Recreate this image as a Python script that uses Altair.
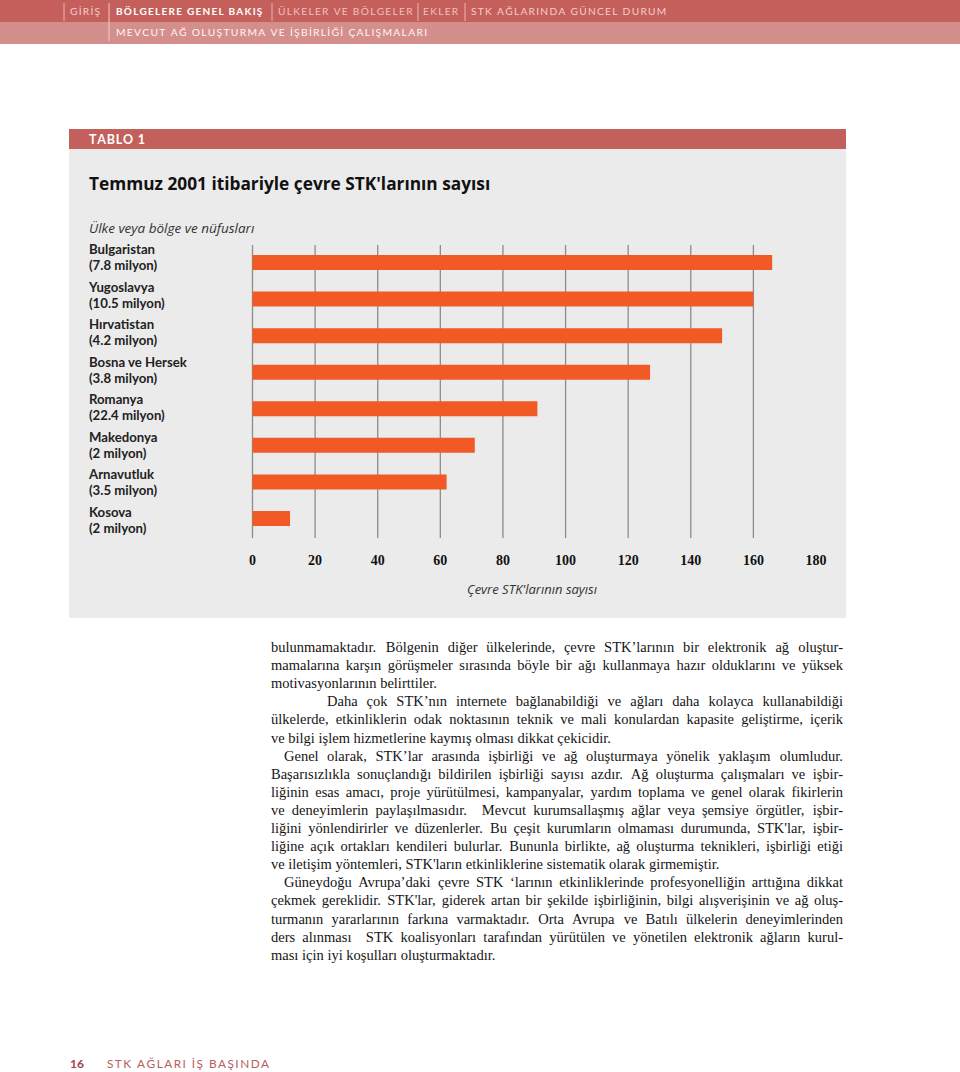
import altair as alt
import pandas as pd

# ---------------- data ----------------
countries = ["Bulgaristan", "Yugoslavya", "Hırvatistan", "Bosna ve Hersek",
             "Romanya", "Makedonya", "Arnavutluk", "Kosova"]
populations = ["(7.8 milyon)", "(10.5 milyon)", "(4.2 milyon)", "(3.8 milyon)",
               "(22.4 milyon)", "(2 milyon)", "(3.5 milyon)", "(2 milyon)"]
ngo_counts = [166, 160, 150, 127, 91, 71, 62, 12]
x_ticks = [0, 20, 40, 60, 80, 100, 120, 140, 160, 180]
grid_values = [0, 20, 40, 60, 80, 100, 120, 140, 160]

table_tag = "TABLO 1"
chart_title = "Temmuz 2001 itibariyle çevre STK'larının sayısı"
y_caption = "Ülke veya bölge ve nüfusları"
x_caption = "Çevre STK'larının sayısı"

nav_top = ["GİRİŞ", "BÖLGELERE GENEL BAKIŞ", "ÜLKELER VE BÖLGELER", "EKLER",
           "STK AĞLARINDA GÜNCEL DURUM"]
nav_sub = "MEVCUT AĞ OLUŞTURMA VE İŞBİRLİĞİ ÇALIŞMALARI"
page_number = "16"
footer_title = "STK AĞLARI İŞ BAŞINDA"

body_lines = [
    "bulunmamaktadır. Bölgenin diğer ülkelerinde, çevre STK’larının bir elektronik ağ oluştur-",
    "mamalarına karşın görüşmeler sırasında böyle bir ağı kullanmaya hazır olduklarını ve yüksek",
    "motivasyonlarının belirttiler.",
    "Daha çok STK’nın internete bağlanabildiği ve ağları daha kolayca kullanabildiği",
    "ülkelerde, etkinliklerin odak noktasının teknik ve mali konulardan kapasite geliştirme, içerik",
    "ve bilgi işlem hizmetlerine kaymış olması dikkat çekicidir.",
    "Genel olarak, STK’lar arasında işbirliği ve ağ oluşturmaya yönelik yaklaşım olumludur.",
    "Başarısızlıkla sonuçlandığı bildirilen işbirliği sayısı azdır. Ağ oluşturma çalışmaları ve işbir-",
    "liğinin esas amacı, proje yürütülmesi, kampanyalar, yardım toplama ve genel olarak fikirlerin",
    "ve deneyimlerin paylaşılmasıdır.  Mevcut kurumsallaşmış ağlar veya şemsiye örgütler, işbir-",
    "liğini yönlendirirler ve düzenlerler. Bu çeşit kurumların olmaması durumunda, STK'lar, işbir-",
    "liğine açık ortakları kendileri bulurlar. Bununla birlikte, ağ oluşturma teknikleri, işbirliği etiği",
    "ve iletişim yöntemleri, STK'ların etkinliklerine sistematik olarak girmemiştir.",
    "Güneydoğu Avrupa’daki çevre STK ‘larının etkinliklerinde profesyonelliğin arttığına dikkat",
    "çekmek gereklidir. STK'lar, giderek artan bir şekilde işbirliğinin, bilgi alışverişinin ve ağ oluş-",
    "turmanın yararlarının farkına varmaktadır. Orta Avrupa ve Batılı ülkelerin deneyimlerinden",
    "ders alınması  STK koalisyonları tarafından yürütülen ve yönetilen elektronik ağların kurul-",
    "ması için iyi koşulları oluşturmaktadır.",
]
paragraph_ends = {2, 5, 12, 17}        # lines that are not justified
paragraph_indent = {3: 56, 6: 13, 13: 13}

# ---------------- layout / style ----------------
W, H = 960, 1072
RED = "#c55f5b"
PINK = "#d48f8d"
PANEL = "#ebebeb"
ORANGE = "#f15a24"
GRID = "#8c8c8c"
BODY_X0, BODY_X1, BODY_Y0, LEADING, BODY_SIZE = 271, 843, 648, 18.1, 14.5

# Times / Liberation Serif advance widths (1/1000 em) used for justification
_w = {}
_w.update({c: v for c, v in zip("abcdefghijklmnopqrstuvwxyz",
                                 [444, 500, 444, 500, 444, 333, 500, 500, 278, 278, 500, 278, 778,
                                  500, 500, 500, 500, 333, 389, 278, 500, 500, 722, 500, 500, 444])})
_w.update({c: v for c, v in zip("ABCDEFGHIJKLMNOPQRSTUVWXYZ",
                                 [722, 667, 667, 722, 611, 556, 722, 722, 333, 389, 722, 611, 889,
                                  722, 722, 556, 722, 667, 556, 611, 722, 722, 944, 722, 722, 611])})
_w.update({"ı": 278, "ğ": 500, "ş": 389, "ç": 444, "ö": 500, "ü": 500, "İ": 333, "Ş": 556,
           "Ç": 667, "Ö": 722, "Ü": 722, "Ğ": 722, ".": 250, ",": 250, "-": 333, "’": 333,
           "‘": 333, "'": 180, " ": 250})


def text_width(s, size):
    return sum(_w.get(c, 500) for c in s) * size / 1000.0


one = pd.DataFrame({"k": [0]})


def spaced(s, sep="\u2009"):
    return sep.join(list(s))


def rect(x0, x1, y0, y1, color):
    return alt.Chart(one).mark_rect(color=color).encode(
        x=alt.value(x0), x2=alt.value(x1), y=alt.value(y0), y2=alt.value(y1))


def vline(x, y0, y1, color, width=1):
    return alt.Chart(one).mark_rule(color=color, strokeWidth=width).encode(
        x=alt.value(x), y=alt.value(y0), y2=alt.value(y1))


def label(text, x, y, size=12, color="#000", weight="normal", style="normal",
          font="Lato", align="left", baseline="middle"):
    return alt.Chart(one).mark_text(
        text=text, fontSize=size, color=color, fontWeight=weight, fontStyle=style,
        font=font, align=align, baseline=baseline).encode(x=alt.value(x), y=alt.value(y))


layers = []

# header
layers += [rect(0, W, 0, 22, RED), rect(0, W, 22, 44, PINK)]
for sx in [64, 272, 418, 465]:
    layers.append(vline(sx, 3, 21, "#e9b9b7"))
layers.append(vline(109, 3, 41, "#efc9c8"))
nav_x = [70, 116, 278, 423, 471]
nav_col = ["#f3cfcd", "#ffffff", "#efc0be", "#efc0be", "#f3cfcd"]
for i, item in enumerate(nav_top):
    if i == 1:
        layers.append(label(spaced(item), nav_x[i], 12, size=10,
                            color=nav_col[i], weight="bold"))
    else:
        layers.append(label(spaced(item), nav_x[i], 12, size=10.2, color=nav_col[i]))
layers.append(label(spaced(nav_sub), 116, 33, size=10.3, color="#fff4f3"))

# table panel
layers += [rect(69, 846, 149, 618, PANEL), rect(69, 846, 129, 149, "#c4605c")]
layers.append(label(spaced(table_tag, "\u200a"), 89, 140, size=12.5, color="#ffffff", weight="bold"))
layers.append(label(chart_title, 89, 185, size=17.3, color="#111111", weight="bold",
                    font="Open Sans"))
layers.append(label(y_caption, 89, 229, size=13.5, color="#333333", style="italic",
                    font="Open Sans"))

xscale = alt.Scale(domain=[0, 180], range=[252.5, 816])
yband = alt.Scale(domain=countries, range=[244, 537], paddingInner=0.59, paddingOuter=0.3)
ylab = alt.Scale(type="point", domain=countries, range=[258, 520.5], padding=0)

grid_df = pd.DataFrame({"v": grid_values})
layers.append(alt.Chart(grid_df).mark_rule(color=GRID, strokeWidth=1.3).encode(
    x=alt.X("v:Q", scale=xscale, axis=None), y=alt.value(245), y2=alt.value(538)))

bars_df = pd.DataFrame({"country": countries, "count": ngo_counts})
layers.append(alt.Chart(bars_df).mark_bar(color=ORANGE).encode(
    x=alt.X("count:Q", scale=xscale, axis=None),
    y=alt.Y("country:N", scale=yband, axis=None, sort=countries)))

lab_df = pd.DataFrame({"country": countries, "population": populations})
for field, dy in [("country", -8), ("population", 8)]:
    layers.append(alt.Chart(lab_df).mark_text(
        align="left", baseline="middle", dy=dy, font="Lato", fontWeight="bold",
        fontSize=13.2, color="#222222").encode(
        x=alt.value(89), y=alt.Y("country:N", scale=ylab, axis=None, sort=countries),
        text=f"{field}:N"))

ticks_df = pd.DataFrame({"v": x_ticks})
layers.append(alt.Chart(ticks_df).mark_text(
    font="Liberation Serif", fontWeight="bold", fontSize=14, color="#111111",
    baseline="middle").encode(
    x=alt.X("v:Q", scale=xscale, axis=None), y=alt.value(561), text="v:Q"))
layers.append(label(x_caption, 532, 590, size=13, color="#333333", style="italic",
                    align="center", font="Open Sans"))

# body text (justified word by word)
plain_rows, word_rows, last_rows = [], [], []
for i, line in enumerate(body_lines):
    y = BODY_Y0 + i * LEADING
    x0 = BODY_X0 + paragraph_indent.get(i, 0)
    if i in paragraph_ends:
        plain_rows.append({"t": line, "x": x0, "y": y})
        continue
    tokens = line.split(" ")
    widths = [text_width(t, BODY_SIZE) for t in tokens]
    gap = (BODY_X1 - x0 - sum(widths)) / (len(tokens) - 1)
    cx = x0
    for j, (t, w) in enumerate(zip(tokens, widths)):
        if j == len(tokens) - 1:
            last_rows.append({"t": t, "x": BODY_X1, "y": y})
        elif t:
            word_rows.append({"t": t, "x": cx, "y": y})
        cx += w + gap

for rows, align in [(plain_rows, "left"), (word_rows, "left"), (last_rows, "right")]:
    layers.append(alt.Chart(pd.DataFrame(rows)).mark_text(
        align=align, baseline="middle", font="Liberation Serif", fontSize=BODY_SIZE,
        color="#151515").encode(
        x=alt.X("x:Q", scale=None, axis=None), y=alt.Y("y:Q", scale=None, axis=None),
        text="t:N"))

# footer
layers.append(label(page_number, 70, 1064, size=12, color="#a2424a", weight="bold"))
layers.append(label(spaced(footer_title), 107, 1064, size=11.8, color="#b5605f"))

chart = alt.layer(*layers).resolve_scale(x="independent", y="independent").properties(
    width=W, height=H, padding=0, autosize=alt.AutoSizeParams(type="none"),
    background="#ffffff").configure_view(stroke=None)

chart.save("out.html", embed_options={"renderer": "svg", "actions": False})
